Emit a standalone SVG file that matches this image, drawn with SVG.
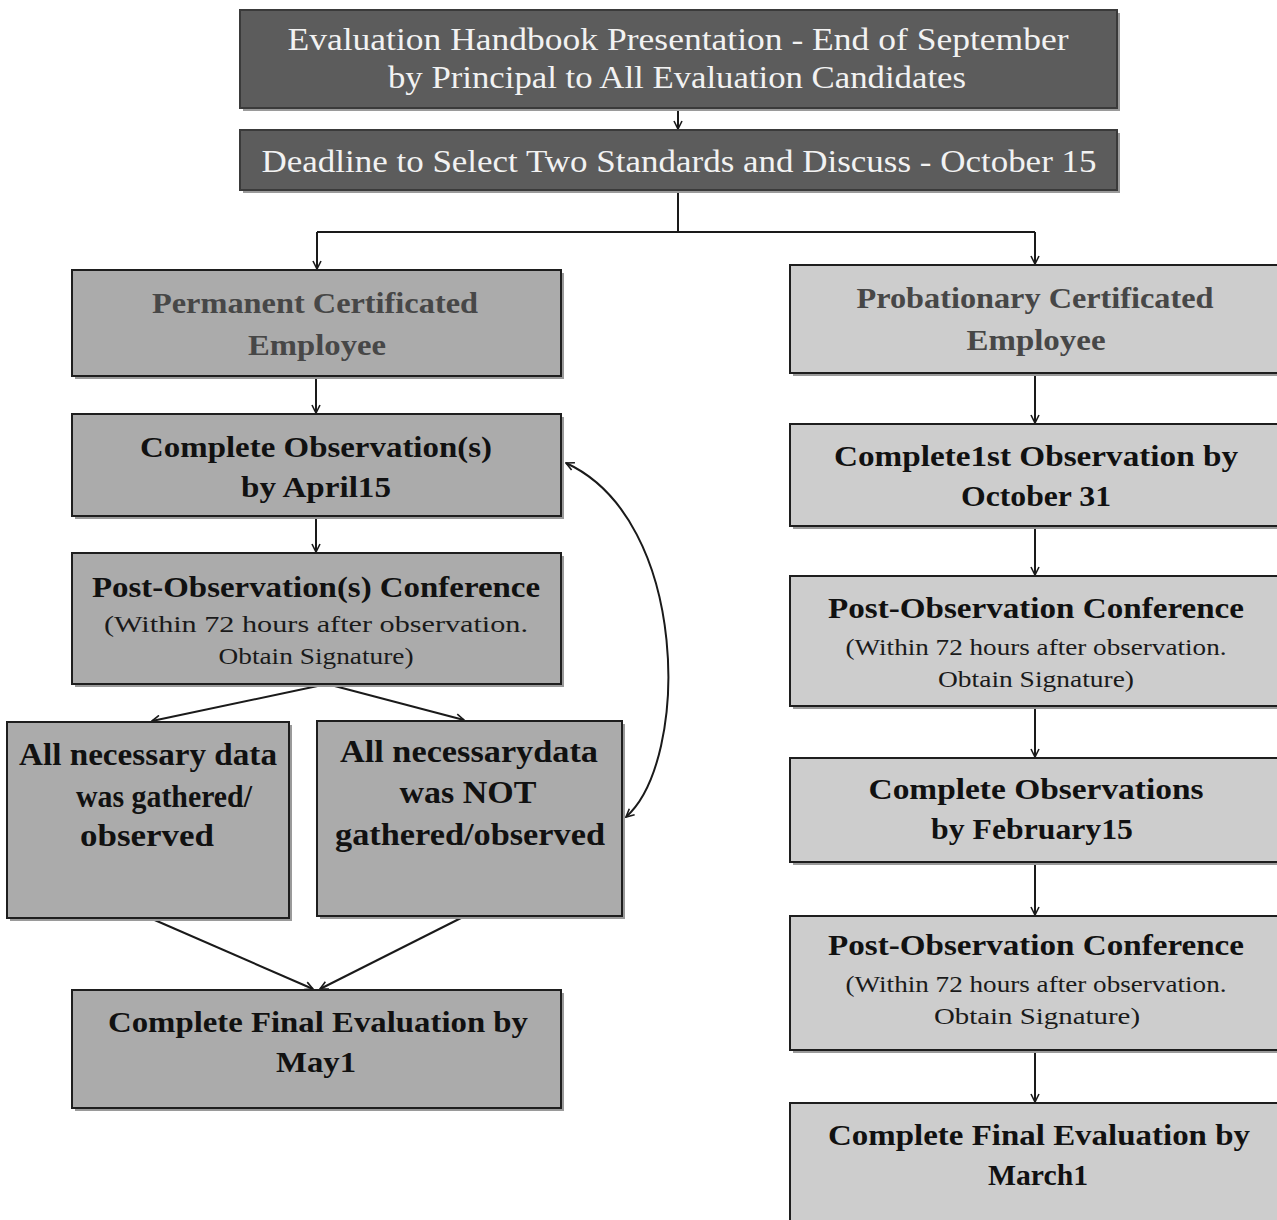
<svg xmlns="http://www.w3.org/2000/svg" width="1277" height="1220" viewBox="0 0 1277 1220">
<style>
  .shadow { fill: #9a9a9a; }
  .dark { fill: #5c5c5c; stroke: #3a3a3a; stroke-width: 2; }
  .mid { fill: #ababab; stroke: #1e1e1e; stroke-width: 2; }
  .light { fill: #cdcdcd; stroke: #1e1e1e; stroke-width: 2; }
  text { font-family: "Liberation Serif", "Times New Roman", serif; text-anchor: middle; }
  .wt { fill: #f2f2f2; font-size: 31px; }
  .hd { fill: #474747; font-size: 29px; font-weight: bold; }
  .bt { fill: #111111; font-size: 29px; font-weight: bold; }
  .big { fill: #111111; font-size: 31px; font-weight: bold; }
  .sm { fill: #1a1a1a; font-size: 23px; }
  .conn { fill: none; stroke: #1a1a1a; stroke-width: 2; }
</style>
<defs>
  <marker id="arr" viewBox="0 0 10 10" refX="9" refY="5" markerWidth="10" markerHeight="10" markerUnits="userSpaceOnUse" orient="auto-start-reverse">
    <path d="M1,1 L9,5 L1,9" fill="none" stroke="#1a1a1a" stroke-width="1.6"/>
  </marker>
</defs>
<rect width="1277" height="1220" fill="#ffffff"/>

<g id="connectors">
  <path class="conn" d="M678,108 L678,129" marker-end="url(#arr)"/>
  <path class="conn" d="M678,190 L678,232 M317,232 L1035,232"/>
  <path class="conn" d="M317,232 L317,269" marker-end="url(#arr)"/>
  <path class="conn" d="M1035,232 L1035,264" marker-end="url(#arr)"/>
  <path class="conn" d="M316,376 L316,413" marker-end="url(#arr)"/>
  <path class="conn" d="M316,516 L316,552" marker-end="url(#arr)"/>
  <path class="conn" d="M327,684 L152,721" marker-end="url(#arr)"/>
  <path class="conn" d="M327,684 L464,720" marker-end="url(#arr)"/>
  <path class="conn" d="M150,918 L313,989" marker-end="url(#arr)"/>
  <path class="conn" d="M463,917 L320,989" marker-end="url(#arr)"/>
  <path class="conn" d="M626,817 C690,760 690,520 566,463" marker-start="url(#arr)" marker-end="url(#arr)"/>
  <path class="conn" d="M1035,373 L1035,423" marker-end="url(#arr)"/>
  <path class="conn" d="M1035,526 L1035,575" marker-end="url(#arr)"/>
  <path class="conn" d="M1035,706 L1035,757" marker-end="url(#arr)"/>
  <path class="conn" d="M1035,862 L1035,915" marker-end="url(#arr)"/>
  <path class="conn" d="M1035,1050 L1035,1102" marker-end="url(#arr)"/>
</g>

<g id="n-handbook">
  <rect class="shadow" x="243" y="13" width="877" height="98"/>
  <rect class="dark" x="240" y="10" width="877" height="98"/>
  <text class="wt" x="678" y="50" textLength="781" lengthAdjust="spacingAndGlyphs">Evaluation Handbook Presentation - End of September</text>
  <text class="wt" x="677" y="88" textLength="578" lengthAdjust="spacingAndGlyphs">by Principal to All Evaluation Candidates</text>
</g>

<g id="n-deadline">
  <rect class="shadow" x="243" y="133" width="877" height="60"/>
  <rect class="dark" x="240" y="130" width="877" height="60"/>
  <text class="wt" x="679" y="172" textLength="835" lengthAdjust="spacingAndGlyphs">Deadline to Select Two Standards and Discuss - October 15</text>
</g>

<g id="n-permanent">
  <rect class="shadow" x="75" y="273" width="489" height="106"/>
  <rect class="mid" x="72" y="270" width="489" height="106"/>
  <text class="hd" x="315" y="313" textLength="326" lengthAdjust="spacingAndGlyphs">Permanent Certificated</text>
  <text class="hd" x="317" y="355" textLength="138" lengthAdjust="spacingAndGlyphs">Employee</text>
</g>

<g id="n-complete-obs">
  <rect class="shadow" x="75" y="417" width="489" height="102"/>
  <rect class="mid" x="72" y="414" width="489" height="102"/>
  <text class="bt" x="316" y="457" textLength="352" lengthAdjust="spacingAndGlyphs">Complete Observation(s)</text>
  <text class="bt" x="316" y="497" textLength="150" lengthAdjust="spacingAndGlyphs">by April15</text>
</g>

<g id="n-post-obs-left">
  <rect class="shadow" x="75" y="556" width="489" height="131"/>
  <rect class="mid" x="72" y="553" width="489" height="131"/>
  <text class="bt" x="316" y="597" textLength="448" lengthAdjust="spacingAndGlyphs">Post-Observation(s) Conference</text>
  <text class="sm" x="316" y="632" textLength="424" lengthAdjust="spacingAndGlyphs">(Within 72 hours after observation.</text>
  <text class="sm" x="316" y="664" textLength="195" lengthAdjust="spacingAndGlyphs">Obtain Signature)</text>
</g>

<g id="n-gathered">
  <rect class="shadow" x="10" y="725" width="282" height="196"/>
  <rect class="mid" x="7" y="722" width="282" height="196"/>
  <text class="big" x="148" y="765" textLength="258" lengthAdjust="spacingAndGlyphs">All necessary data</text>
  <text class="big" x="164" y="807" textLength="176" lengthAdjust="spacingAndGlyphs">was gathered/</text>
  <text class="big" x="147" y="846" textLength="134" lengthAdjust="spacingAndGlyphs">observed</text>
</g>

<g id="n-not-gathered">
  <rect class="shadow" x="320" y="724" width="305" height="195"/>
  <rect class="mid" x="317" y="721" width="305" height="195"/>
  <text class="big" x="469" y="762" textLength="258" lengthAdjust="spacingAndGlyphs">All necessarydata</text>
  <text class="big" x="468" y="803" textLength="137" lengthAdjust="spacingAndGlyphs">was NOT</text>
  <text class="big" x="470" y="845" textLength="270" lengthAdjust="spacingAndGlyphs">gathered/observed</text>
</g>

<g id="n-final-may">
  <rect class="shadow" x="75" y="993" width="489" height="118"/>
  <rect class="mid" x="72" y="990" width="489" height="118"/>
  <text class="bt" x="318" y="1032" textLength="420" lengthAdjust="spacingAndGlyphs">Complete Final Evaluation by</text>
  <text class="bt" x="316" y="1072" textLength="80" lengthAdjust="spacingAndGlyphs">May1</text>
</g>

<g id="n-probationary">
  <rect class="shadow" x="793" y="268" width="490" height="108"/>
  <rect class="light" x="790" y="265" width="490" height="108"/>
  <text class="hd" x="1035" y="308" textLength="357" lengthAdjust="spacingAndGlyphs">Probationary Certificated</text>
  <text class="hd" x="1036" y="350" textLength="139" lengthAdjust="spacingAndGlyphs">Employee</text>
</g>

<g id="n-first-obs">
  <rect class="shadow" x="793" y="427" width="490" height="102"/>
  <rect class="light" x="790" y="424" width="490" height="102"/>
  <text class="bt" x="1036" y="466" textLength="404" lengthAdjust="spacingAndGlyphs">Complete1st Observation by</text>
  <text class="bt" x="1036" y="506" textLength="150" lengthAdjust="spacingAndGlyphs">October 31</text>
</g>

<g id="n-post-obs-right-1">
  <rect class="shadow" x="793" y="579" width="490" height="130"/>
  <rect class="light" x="790" y="576" width="490" height="130"/>
  <text class="bt" x="1036" y="618" textLength="416" lengthAdjust="spacingAndGlyphs">Post-Observation Conference</text>
  <text class="sm" x="1036" y="655" textLength="381" lengthAdjust="spacingAndGlyphs">(Within 72 hours after observation.</text>
  <text class="sm" x="1036" y="687" textLength="196" lengthAdjust="spacingAndGlyphs">Obtain Signature)</text>
</g>

<g id="n-obs-feb">
  <rect class="shadow" x="793" y="761" width="490" height="104"/>
  <rect class="light" x="790" y="758" width="490" height="104"/>
  <text class="bt" x="1036" y="799" textLength="335" lengthAdjust="spacingAndGlyphs">Complete Observations</text>
  <text class="bt" x="1032" y="839" textLength="202" lengthAdjust="spacingAndGlyphs">by February15</text>
</g>

<g id="n-post-obs-right-2">
  <rect class="shadow" x="793" y="919" width="490" height="134"/>
  <rect class="light" x="790" y="916" width="490" height="134"/>
  <text class="bt" x="1036" y="955" textLength="416" lengthAdjust="spacingAndGlyphs">Post-Observation Conference</text>
  <text class="sm" x="1036" y="992" textLength="381" lengthAdjust="spacingAndGlyphs">(Within 72 hours after observation.</text>
  <text class="sm" x="1037" y="1024" textLength="206" lengthAdjust="spacingAndGlyphs">Obtain Signature)</text>
</g>

<g id="n-final-march">
  <rect class="shadow" x="793" y="1106" width="490" height="120"/>
  <rect class="light" x="790" y="1103" width="490" height="120"/>
  <text class="bt" x="1039" y="1145" textLength="422" lengthAdjust="spacingAndGlyphs">Complete Final Evaluation by</text>
  <text class="bt" x="1038" y="1185" textLength="100" lengthAdjust="spacingAndGlyphs">March1</text>
</g>
</svg>
